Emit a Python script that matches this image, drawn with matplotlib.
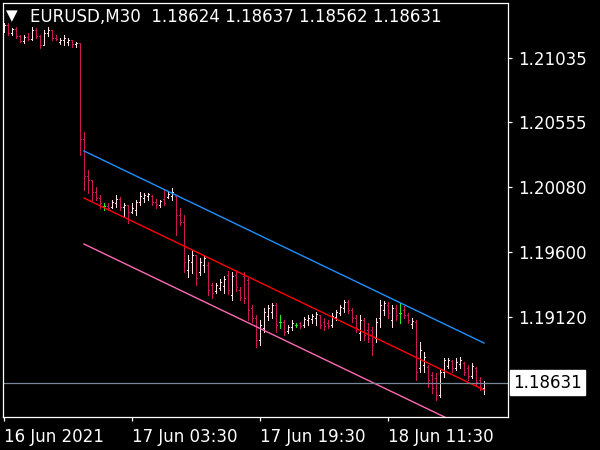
import numpy as np
import matplotlib
matplotlib.use("Agg")
import matplotlib.pyplot as plt
import matplotlib.transforms as mtransforms

# EURUSD M30 bars, 16 Jun 11:30 .. 18 Jun ~11:30
opens = [1.21238, 1.21275, 1.21216, 1.21246, 1.21194, 1.21157, 1.21187, 1.21172, 1.21238, 1.21194,
         1.21127, 1.21216, 1.21238, 1.21179, 1.21150, 1.21164, 1.21150, 1.21164, 1.21135, 1.21142,
         1.20432, 1.20159, 1.20129, 1.20041, 1.19996, 1.19937, 1.19937, 1.19930, 1.19959, 1.19989,
         1.19930, 1.19944, 1.19893, 1.19907, 1.19967, 1.19996, 1.20011, 1.20011, 1.19967, 1.19944,
         1.19989, 1.20004, 1.20011, 1.20011, 1.19870, 1.19819, 1.19464, 1.19523, 1.19575, 1.19449,
         1.19501, 1.19501, 1.19353, 1.19309, 1.19331, 1.19346, 1.19427, 1.19279, 1.19427, 1.19316,
         1.19420, 1.19390, 1.19183, 1.19109, 1.18946, 1.19035, 1.19124, 1.19153, 1.19205, 1.19079,
         1.19079, 1.19013, 1.19042, 1.19057, 1.19072, 1.19057, 1.19094, 1.19101, 1.19109, 1.19131,
         1.19079, 1.19072, 1.19057, 1.19116, 1.19146, 1.19183, 1.19227, 1.19168, 1.19109, 1.18998,
         1.19094, 1.19020, 1.19020, 1.18961, 1.19109, 1.19168, 1.19205, 1.19094, 1.19183, 1.19146,
         1.19168, 1.19131, 1.19065, 1.19079, 1.18739, 1.18761, 1.18746, 1.18687, 1.18665, 1.18539,
         1.18709, 1.18754, 1.18791, 1.18739, 1.18769, 1.18776, 1.18739, 1.18680, 1.18739, 1.18650,
         1.18591]
highs = [1.21290, 1.21290, 1.21253, 1.21260, 1.21201, 1.21201, 1.21216, 1.21260, 1.21253, 1.21201,
         1.21238, 1.21260, 1.21238, 1.21201, 1.21179, 1.21201, 1.21179, 1.21164, 1.21150, 1.21142,
         1.20484, 1.20203, 1.20129, 1.20078, 1.20018, 1.19959, 1.19959, 1.19981, 1.20018, 1.20004,
         1.19959, 1.19944, 1.19959, 1.19981, 1.20041, 1.20033, 1.20033, 1.20018, 1.19989, 1.19981,
         1.20055, 1.20041, 1.20070, 1.20018, 1.19922, 1.19870, 1.19575, 1.19612, 1.19575, 1.19553,
         1.19575, 1.19523, 1.19368, 1.19368, 1.19398, 1.19420, 1.19456, 1.19449, 1.19464, 1.19338,
         1.19449, 1.19405, 1.19205, 1.19131, 1.19094, 1.19183, 1.19205, 1.19220, 1.19220, 1.19131,
         1.19094, 1.19057, 1.19094, 1.19072, 1.19079, 1.19116, 1.19131, 1.19138, 1.19153, 1.19131,
         1.19109, 1.19094, 1.19146, 1.19168, 1.19205, 1.19242, 1.19242, 1.19183, 1.19131, 1.19131,
         1.19109, 1.19072, 1.19042, 1.19109, 1.19242, 1.19235, 1.19227, 1.19205, 1.19205, 1.19220,
         1.19198, 1.19146, 1.19109, 1.19094, 1.18932, 1.18858, 1.18761, 1.18709, 1.18702, 1.18724,
         1.18813, 1.18813, 1.18798, 1.18813, 1.18820, 1.18783, 1.18761, 1.18776, 1.18746, 1.18672,
         1.18643]
lows = [1.21224, 1.21201, 1.21201, 1.21179, 1.21150, 1.21142, 1.21164, 1.21164, 1.21179, 1.21105,
        1.21127, 1.21194, 1.21164, 1.21164, 1.21135, 1.21127, 1.21127, 1.21113, 1.21113, 1.20314,
        1.20055, 1.20033, 1.19981, 1.19981, 1.19922, 1.19907, 1.19907, 1.19922, 1.19930, 1.19907,
        1.19856, 1.19811, 1.19885, 1.19870, 1.19944, 1.19967, 1.19981, 1.19944, 1.19922, 1.19930,
        1.19944, 1.19996, 1.19981, 1.19723, 1.19796, 1.19449, 1.19412, 1.19442, 1.19353, 1.19427,
        1.19449, 1.19279, 1.19257, 1.19294, 1.19316, 1.19294, 1.19287, 1.19242, 1.19309, 1.19242,
        1.19220, 1.19094, 1.19079, 1.18894, 1.18909, 1.19005, 1.19094, 1.19109, 1.19005, 1.19035,
        1.18983, 1.18998, 1.19020, 1.19042, 1.19035, 1.19042, 1.19057, 1.19072, 1.19057, 1.19035,
        1.19020, 1.19035, 1.19042, 1.19094, 1.19131, 1.19153, 1.19146, 1.19079, 1.19005, 1.18946,
        1.18946, 1.18932, 1.18835, 1.18932, 1.19042, 1.19131, 1.19109, 1.19042, 1.19094, 1.19072,
        1.19109, 1.19072, 1.19035, 1.18650, 1.18709, 1.18709, 1.18598, 1.18554, 1.18503, 1.18524,
        1.18672, 1.18739, 1.18709, 1.18724, 1.18739, 1.18687, 1.18650, 1.18665, 1.18613, 1.18576,
        1.18547]
closes = [1.21275, 1.21216, 1.21246, 1.21194, 1.21157, 1.21187, 1.21172, 1.21238, 1.21194, 1.21127,
          1.21216, 1.21238, 1.21179, 1.21172, 1.21164, 1.21179, 1.21164, 1.21135, 1.21142, 1.20432,
          1.20159, 1.20129, 1.20041, 1.19996, 1.19959, 1.19937, 1.19922, 1.19967, 1.19989, 1.19930,
          1.19944, 1.19893, 1.19922, 1.19967, 1.20011, 1.20018, 1.20026, 1.19967, 1.19952, 1.19974,
          1.19959, 1.20026, 1.20041, 1.19870, 1.19819, 1.19523, 1.19538, 1.19575, 1.19405, 1.19523,
          1.19553, 1.19316, 1.19294, 1.19353, 1.19375, 1.19398, 1.19316, 1.19420, 1.19338, 1.19264,
          1.19257, 1.19168, 1.19109, 1.18946, 1.19057, 1.19153, 1.19183, 1.19205, 1.19057, 1.19079,
          1.19005, 1.19042, 1.19072, 1.19057, 1.19050, 1.19101, 1.19109, 1.19124, 1.19138, 1.19057,
          1.19050, 1.19050, 1.19124, 1.19153, 1.19190, 1.19227, 1.19168, 1.19109, 1.19035, 1.19094,
          1.18983, 1.18961, 1.18909, 1.19079, 1.19205, 1.19220, 1.19146, 1.19183, 1.19131, 1.19146,
          1.19131, 1.19094, 1.19087, 1.18709, 1.18872, 1.18820, 1.18650, 1.18591, 1.18539, 1.18709,
          1.18798, 1.18798, 1.18739, 1.18783, 1.18798, 1.18709, 1.18680, 1.18754, 1.18635, 1.18598,
          1.18631]

# regression channel (start bar, end bar)
chan_x = [20, 120]
chan_upper = [1.20344, 1.18924]
chan_mid = [1.19996, 1.18577]
chan_lower = [1.19656, 1.18237]

last_price = 1.18631
yticks = [1.21035, 1.20555, 1.20080, 1.19600, 1.19120]
xtick_pos = [0, 32, 64, 96]
xtick_labels = ["16 Jun 2021", "17 Jun 03:30", "17 Jun 19:30", "18 Jun 11:30"]
header = "EURUSD,M30  1.18624 1.18637 1.18562 1.18631"

UP = "#FFE0E0"
DOWN = "#C8185A"
DOJI = "#22EE22"

fig = plt.figure(figsize=(6, 4.5), dpi=100, facecolor="black")
ax = fig.add_axes([3 / 600, 33 / 450, 505 / 600, 414.5 / 450], facecolor="black")

o = np.array(opens)
h = np.array(highs)
l = np.array(lows)
c = np.array(closes)
x = np.arange(len(o))
cols = [UP if cc > oo else (DOWN if cc < oo else DOJI) for oo, cc in zip(o, c)]

lw = 0.72
ax.vlines(x, l, h, colors=cols, linewidth=lw, antialiased=False)
ax.hlines(o, x - 0.3, x, colors=cols, linewidth=lw, antialiased=False)
ax.hlines(c, x, x + 0.3, colors=cols, linewidth=lw, antialiased=False)

ax.plot(chan_x, chan_upper, color="#1E90FF", linewidth=1.0)
ax.plot(chan_x, chan_mid, color="#FF0000", linewidth=1.0)
ax.plot(chan_x, chan_lower, color="#FF69B4", linewidth=1.0)

ax.axhline(last_price, color="#778899", linewidth=0.9)

ax.set_xlim(-0.25, 126)
ax.set_ylim(1.18377, 1.21442)

for s in ax.spines.values():
    s.set_color("white")
    s.set_linewidth(0.9)

ax.yaxis.tick_right()
ax.set_yticks(yticks)
ax.set_yticklabels([f"{v:.5f}" for v in yticks])
ax.set_xticks(xtick_pos)
ax.set_xticklabels(xtick_labels, ha="left")
ax.tick_params(colors="white", labelcolor="white", labelsize=12, length=3, width=0.9)
ax.tick_params(axis="y", pad=4)
ax.tick_params(axis="x", pad=5)

trans = mtransforms.blended_transform_factory(ax.transAxes, ax.transData)
ax.text(1.01, last_price, f"{last_price:.5f}", transform=trans, va="center", ha="left",
        fontsize=12, color="black",
        bbox=dict(boxstyle="square,pad=0.2", facecolor="white", edgecolor="white"))

fig.text(6 / 600, 1 - 16 / 450, "\u25BC", color="white", fontsize=11, va="center", ha="left")
fig.text(30 / 600, 1 - 17 / 450, header, color="white", fontsize=12, va="center", ha="left")

fig.savefig("out.png", dpi=100, facecolor="black")
